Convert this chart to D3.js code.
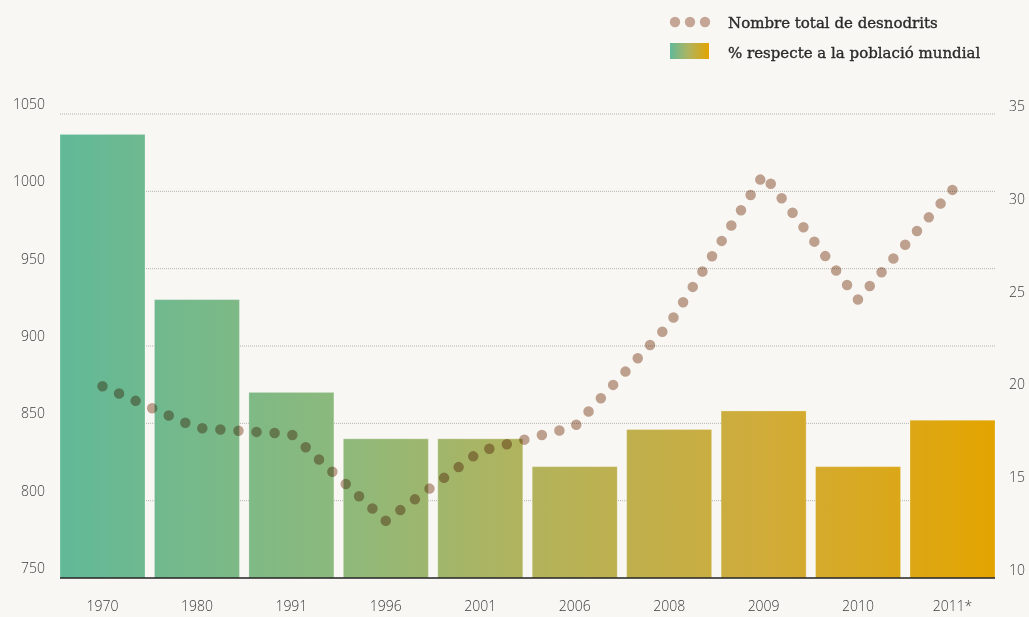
<!DOCTYPE html>
<html>
<head>
<meta charset="utf-8">
<style>
  body { margin: 0; background: #f8f7f3; }
  svg { display: block; }
  .tick-label { font-family: "Open Sans", sans-serif; font-weight: 300; font-size: 14px; fill: #3c3c3c; }
  .legend-text { font-family: "DejaVu Serif", serif; font-size: 15px; fill: #2a2a2a; stroke: #2a2a2a; stroke-width: 0.35px; }
</style>
</head>
<body>
<div class="chart"></div>

<script src="https://d3js.org/d3.v7.min.js"></script>
<script>
// data
const years = ["1970", "1980", "1991", "1996", "2001", "2006", "2008", "2009", "2010", "2011*"];
const undernourished = [874, 847, 843, 787, 832, 848, 914, 1011, 930, 1001];  // millions, left axis
const sharePct = [33.9, 25, 20, 17.5, 17.5, 16, 18, 19, 16, 18.5];            // % world pop, right axis
const leftTicks = [750, 800, 850, 900, 950, 1000, 1050];
const rightTicks = [10, 15, 20, 25, 30, 35];
const legendLabels = ["Nombre total de desnodrits", "% respecte a la població mundial"];

const width = 1029, height = 617;
const plotL = 60, plotR = 995, plotT = 114, plotB = 578;

const svg = d3.select(".chart").append("svg")
  .attr("width", width).attr("height", height);

svg.append("rect").attr("width", width).attr("height", height).attr("fill", "#f8f7f3");

const x = d3.scaleBand().domain(years).range([plotL, plotR]).paddingInner(0.1).paddingOuter(0);
const yLeft = d3.scaleLinear().domain([750, 1050]).range([plotB, plotT]);
const yRight = d3.scaleLinear().domain([10, 35]).range([plotB, plotT]);

// gradient across the whole plot
const defs = svg.append("defs");
const grad = defs.append("linearGradient").attr("id", "barGrad")
  .attr("gradientUnits", "userSpaceOnUse")
  .attr("x1", plotL).attr("x2", plotR).attr("y1", 0).attr("y2", 0);
[[0, "#61b998"], [0.3, "#8db97c"], [0.5, "#b2b35c"], [0.75, "#d0ac3a"], [1, "#e3a400"]]
  .forEach(([o, c]) => grad.append("stop").attr("offset", o).attr("stop-color", c));

const legGrad = defs.append("linearGradient").attr("id", "legGrad");
[[0, "#61b998"], [0.5, "#b2b35c"], [1, "#e3a400"]]
  .forEach(([o, c]) => legGrad.append("stop").attr("offset", o).attr("stop-color", c));

// gridlines
svg.append("g").selectAll("line")
  .data(leftTicks.filter(d => d > 750))
  .join("line")
    .attr("x1", plotL).attr("x2", plotR)
    .attr("y1", d => yLeft(d)).attr("y2", d => yLeft(d))
    .attr("stroke", "#b5b3ae").attr("stroke-width", 1)
    .attr("stroke-dasharray", "1 1");

// bars
svg.append("g").selectAll("rect")
  .data(years.map((y, i) => ({ y, v: sharePct[i] })))
  .join("rect")
    .attr("x", d => x(d.y))
    .attr("y", d => yRight(d.v))
    .attr("width", x.bandwidth())
    .attr("height", d => plotB - yRight(d.v))
    .attr("fill", "url(#barGrad)")
    .attr("stroke", "rgba(255,255,255,0.25)")
    .attr("stroke-width", 1);

// baseline
svg.append("line")
  .attr("x1", plotL).attr("x2", plotR)
  .attr("y1", plotB).attr("y2", plotB)
  .attr("stroke", "#222").attr("stroke-width", 1.5);

// dotted line
const line = d3.line()
  .x((d, i) => x(years[i]) + x.bandwidth() / 2)
  .y(d => yLeft(d));

const dots = svg.append("path")
  .datum(undernourished)
  .attr("d", line)
  .attr("fill", "none")
  .attr("stroke", "#c4a596")
  .attr("stroke-width", 10.5)
  .attr("stroke-linecap", "round")
  .style("mix-blend-mode", "multiply");

// space the dots so one sits on each end of the line
const len = dots.node().getTotalLength();
const gap = len / Math.round(len / 18) - 0.002;
dots.attr("stroke-dasharray", `0 ${gap}`);

// left axis labels
svg.append("g").selectAll("text")
  .data(leftTicks)
  .join("text")
    .attr("class", "tick-label")
    .attr("x", 45)
    .attr("y", d => yLeft(d) - 5)
    .attr("text-anchor", "end")
    .text(d => d);

// right axis labels
svg.append("g").selectAll("text")
  .data(rightTicks)
  .join("text")
    .attr("class", "tick-label")
    .attr("x", 1009)
    .attr("y", d => yRight(d) - 3)
    .text(d => d);

// x labels
svg.append("g").selectAll("text")
  .data(years)
  .join("text")
    .attr("class", "tick-label")
    .attr("x", d => x(d) + x.bandwidth() / 2)
    .attr("y", 611)
    .attr("text-anchor", "middle")
    .text(d => d);

// legend
const leg = svg.append("g");
leg.selectAll("circle")
  .data([0, 1, 2])
  .join("circle")
    .attr("cx", d => 675 + d * 15)
    .attr("cy", 22)
    .attr("r", 5.2)
    .attr("fill", "#c4a596");
leg.append("text").attr("class", "legend-text")
  .attr("x", 728).attr("y", 28).text(legendLabels[0]);
leg.append("rect")
  .attr("x", 670).attr("y", 43).attr("width", 39).attr("height", 16)
  .attr("fill", "url(#legGrad)");
leg.append("text").attr("class", "legend-text")
  .attr("x", 728).attr("y", 58).text(legendLabels[1]);
</script>
</body>
</html>
